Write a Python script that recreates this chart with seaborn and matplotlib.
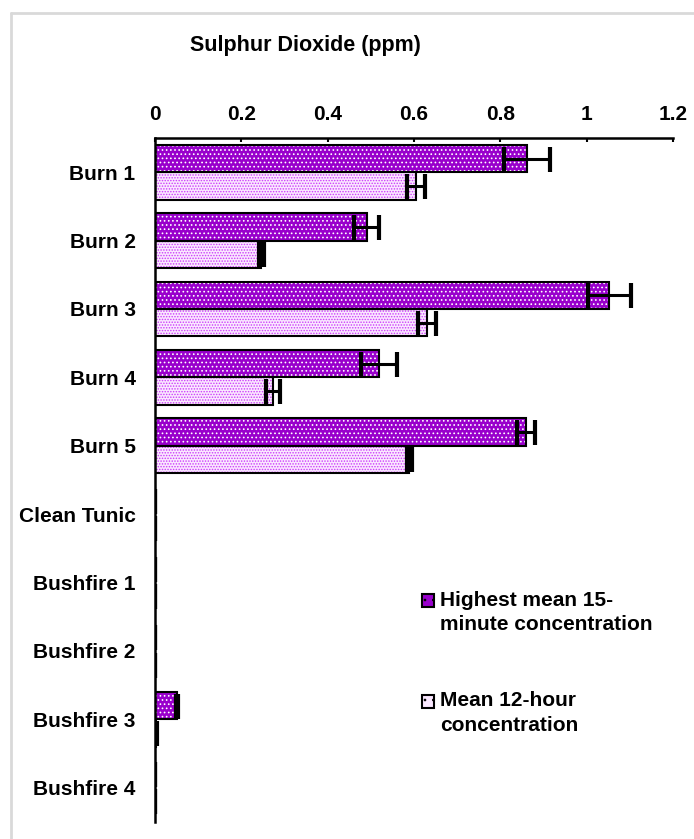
import matplotlib
matplotlib.use("Agg")
import matplotlib.pyplot as plt
from matplotlib.patches import Rectangle, Patch
from matplotlib.lines import Line2D
from matplotlib.legend_handler import HandlerPatch
import seaborn as sns
import pandas as pd

# Sulphur dioxide concentrations (ppm) per monitoring event
categories = ["Burn 1", "Burn 2", "Burn 3", "Burn 4", "Burn 5",
              "Clean Tunic", "Bushfire 1", "Bushfire 2", "Bushfire 3", "Bushfire 4"]
series_names = ["Highest mean 15-\nminute concentration",
                "Mean 12-hour\nconcentration"]
highest_15min = [0.862, 0.491, 1.052, 0.519, 0.860, 0.0, 0.0, 0.0, 0.051, 0.0]
highest_15min_err = [0.054, 0.029, 0.050, 0.042, 0.021, 0.0, 0.0, 0.0, 0.003, 0.0]
mean_12hr = [0.605, 0.246, 0.630, 0.273, 0.589, 0.0, 0.0, 0.0, 0.003, 0.0]
mean_12hr_err = [0.021, 0.006, 0.021, 0.016, 0.006, 0.0, 0.0, 0.0, 0.001, 0.0]
x_ticks = [0, 0.2, 0.4, 0.6, 0.8, 1.0, 1.2]
x_tick_labels = ["0", "0.2", "0.4", "0.6", "0.8", "1", "1.2"]

df = pd.DataFrame({
    "Event": categories * 2,
    "Series": [series_names[0]] * len(categories) + [series_names[1]] * len(categories),
    "SO2": highest_15min + mean_12hr,
})
errors = {series_names[0]: highest_15min_err, series_names[1]: mean_12hr_err}

sns.set_style("white")
plt.rcParams["font.family"] = ["Liberation Sans", "DejaVu Sans"]
plt.rcParams["text.color"] = "black"
plt.rcParams["xtick.color"] = "black"
plt.rcParams["ytick.color"] = "black"
plt.rcParams["hatch.linewidth"] = 0.7

W, H = 694, 839
fig = plt.figure(figsize=(W / 100, H / 100), dpi=100)
ax = fig.add_axes([155 / W, 1 - 822 / H, (673 - 155) / W, (822 - 138) / H])

dark = "#9900CC"
face = {series_names[0]: dark, series_names[1]: "#FAE8FF"}
dots = {series_names[0]: "white", series_names[1]: "#CC3AFA"}
hatches = {series_names[0]: "....", series_names[1]: "......"}

sns.barplot(data=df, x="SO2", y="Event", hue="Series", order=categories,
            hue_order=series_names, orient="h", palette=face, width=0.8,
            errorbar=None, legend=False, ax=ax, linewidth=0, saturation=1)

for name, container in zip(series_names, ax.containers):
    ys = []
    for p in container.patches:
        # dotted fill carried by the bar itself
        p.set_hatch(hatches[name])
        p.set_edgecolor(dots[name])
        p.set_linewidth(0)
        # black outline drawn on top
        ax.add_patch(Rectangle((p.get_x(), p.get_y()), p.get_width(), p.get_height(),
                               fill=False, edgecolor="black", linewidth=1.5, zorder=3))
        ys.append(p.get_y() + p.get_height() / 2)
    vals = [p.get_width() for p in container.patches]
    ax.errorbar(vals, ys, xerr=errors[name], fmt="none", ecolor="black",
                elinewidth=2.2, capsize=9, capthick=3, zorder=4)

ax.set_xlim(0, 1.2)
ax.set_ylim(len(categories) - 0.5, -0.5)
ax.xaxis.tick_top()
ax.set_xticks(x_ticks)
ax.set_xticklabels(x_tick_labels, fontsize=15, fontweight="bold")
ax.tick_params(axis="x", direction="in", length=3, width=1.5, pad=10)
ax.tick_params(axis="y", length=0, pad=14)
for lab in ax.get_yticklabels():
    lab.set_fontsize(15)
    lab.set_fontweight("bold")
ax.set_xlabel("")
ax.set_ylabel("")
for s in ["right", "bottom"]:
    ax.spines[s].set_visible(False)
for s in ["top", "left"]:
    ax.spines[s].set_color("black")
    ax.spines[s].set_linewidth(1.8)

fig.text(305 / W, 1 - 45 / H, "Sulphur Dioxide (ppm)", ha="center", va="center",
         fontsize=15.5, fontweight="bold")


def first_line_square(legend, orig_handle, xdescent, ydescent, width, height, fontsize):
    # legend swatch aligned with the first line of a two-line label
    return Rectangle((-xdescent, -ydescent + 8.5), width, height)


handles = [Patch(facecolor=face[n], edgecolor="black", hatch="..", linewidth=1.5)
           for n in series_names]
leg = fig.legend(handles, series_names, loc="upper left",
                 bbox_to_anchor=(403 / W, 1 - 572 / H), frameon=False,
                 prop={"size": 15, "weight": "bold"}, labelspacing=2.75,
                 handlelength=0.6, handleheight=0.6, handletextpad=0.3,
                 handler_map={Patch: HandlerPatch(patch_func=first_line_square)})
for t in leg.get_texts():
    t.set_linespacing(1.35)

# chart area border
fig.add_artist(Line2D([11 / W, 1.0], [1 - 13 / H, 1 - 13 / H], color="#D9D9D9",
                      linewidth=2, transform=fig.transFigure))
fig.add_artist(Line2D([11 / W, 11 / W], [0.0, 1 - 13 / H], color="#D9D9D9",
                      linewidth=2, transform=fig.transFigure))

fig.savefig("out.png", dpi=100, facecolor="white")
